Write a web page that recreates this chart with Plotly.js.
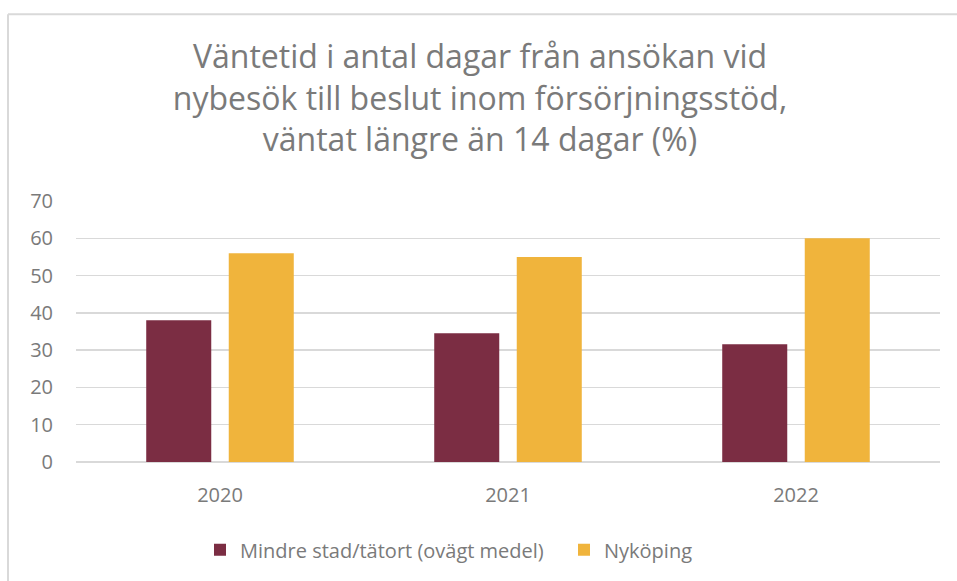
<!DOCTYPE html>
<html>
<head>
<meta charset="utf-8">
<script src="https://cdn.plot.ly/plotly-3.0.1.min.js"></script>
<style>
html, body { margin: 0; padding: 0; background: #ffffff; }
#chart { width: 957px; height: 581px; }
</style>
</head>
<body>
<div id="chart"></div>
<script>
const years = ['2020', '2021', '2022'];
const mindreStad = [38, 34.5, 31.6];
const nykoping = [56, 55, 60];
const seriesNames = ['Mindre stad/tätort (ovägt medel)', 'Nyköping'];
const yTicks = [0, 10, 20, 30, 40, 50, 60, 70];
const titleLines = [
  'Väntetid i antal dagar från ansökan vid',
  'nybesök till beslut inom försörjningsstöd,',
  'väntat längre än 14 dagar (%)'
];

const FONT = 'Open Sans, Lato, DejaVu Sans, sans-serif';
const GRAY = '#7a7a7a';

const traces = [
  { type: 'bar', name: seriesNames[0], x: years, y: mindreStad,
    marker: { color: '#7B2D43' }, hoverinfo: 'x+y' },
  { type: 'bar', name: seriesNames[1], x: years, y: nykoping,
    marker: { color: '#F0B43C' }, hoverinfo: 'x+y' }
];

// plot area: x 76..940, y 201..465
const L = 76, R = 940, T = 201, B = 465;
const px2x = p => (p - L) / (R - L);
const py2y = p => (B - p) / (B - T);

const layout = {
  width: 957, height: 581,
  margin: { l: L, r: 957 - R, t: T, b: 581 - B },
  paper_bgcolor: '#ffffff', plot_bgcolor: '#ffffff',
  font: { family: FONT, color: GRAY, size: 20 },
  title: {
    text: titleLines.join('<br>'),
    font: { family: FONT, size: 32, color: GRAY },
    x: px2x(480), xanchor: 'center', xref: 'paper',
    y: 1 - 68 / 581, yanchor: 'top', yref: 'container'
  },
  barmode: 'group',
  bargap: 0.427,
  bargroupgap: 0.212,
  xaxis: {
    type: 'category',
    showgrid: false, zeroline: false, showline: false,
    ticks: '', tickfont: { family: FONT, size: 20, color: GRAY },
    ticklabelstandoff: 19
  },
  yaxis: {
    range: [0, 70], tickvals: yTicks, ticktext: yTicks.map(String),
    showgrid: true, gridcolor: '#d9d9d9', gridwidth: 1.5,
    zeroline: true, zerolinecolor: '#d9d9d9', zerolinewidth: 1.5,
    showline: false, ticks: '',
    tickfont: { family: FONT, size: 20, color: GRAY },
    ticklabelstandoff: 22
  },
  showlegend: true,
  legend: {
    orientation: 'h',
    x: px2x(200), xanchor: 'left',
    y: py2y(534), yanchor: 'top',
    font: { family: FONT, size: 20, color: GRAY },
    bgcolor: 'rgba(0,0,0,0)',
    entrywidth: 319, entrywidthmode: 'pixels',
    traceorder: 'normal'
  },
  shapes: [
    { type: 'line', xref: 'paper', yref: 'paper',
      x0: px2x(8), x1: px2x(8), y0: py2y(12), y1: py2y(600),
      line: { color: '#d9d9d9', width: 2 } },
    { type: 'line', xref: 'paper', yref: 'paper',
      x0: px2x(8), x1: px2x(980), y0: py2y(12), y1: py2y(12),
      line: { color: '#d9d9d9', width: 2 } }
  ],
  annotations: [
    { text: '<b>g</b>', xref: 'paper', yref: 'paper',
      x: px2x(501), y: py2y(7), xanchor: 'center', yanchor: 'bottom',
      yshift: 22,
      showarrow: false, font: { family: 'Liberation Sans, Arial, sans-serif', size: 36, color: '#000000' } }
  ]
};

Plotly.newPlot('chart', traces, layout, { displayModeBar: false, staticPlot: true });
</script>
</body>
</html>
